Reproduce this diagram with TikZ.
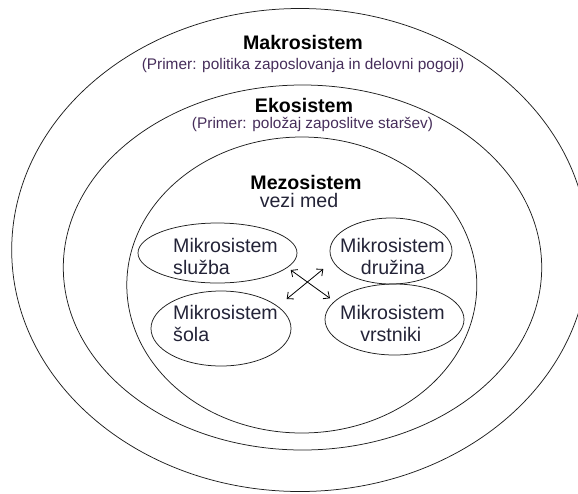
\documentclass[tikz,border=0pt]{standalone}
\usepackage{fontspec}
\setmainfont{Liberation Sans}
\usetikzlibrary{shapes.geometric,arrows.meta}
\definecolor{ringcol}{RGB}{30,30,30}
\definecolor{subcol}{RGB}{70,45,90}
\definecolor{txtcol}{RGB}{35,35,55}
\tikzset{
  ring/.style={ellipse, draw=ringcol, line width=0.75pt, inner sep=0pt},
  titletext/.style={font=\fontsize{19.6}{23}\selectfont\bfseries, text=black, inner sep=0pt, anchor=base},
  subtext/.style={font=\fontsize{15.4}{18}\selectfont, text=subcol, inner sep=0pt, anchor=base},
  mtext/.style={font=\fontsize{19.6}{23}\selectfont, text=txtcol, inner sep=0pt},
  link/.style={draw=black, line width=0.8pt, {Straight Barb[length=5pt,width=9pt]}-{Straight Barb[length=5pt,width=9pt]}}
}
\begin{document}
\begin{tikzpicture}[x=1pt,y=-1pt]
\useasboundingbox (0,0) rectangle (578,493);
% system rings
\node[ring, minimum width=576.6pt, minimum height=483pt] (makro) at (300,250) {};
\node[ring, minimum width=478.4pt, minimum height=365pt] (eko) at (302.5,267.5) {};
\node[ring, minimum width=350pt, minimum height=296pt] (mezo) at (301.8,285) {};
% microsystem ellipses
\node[ring, minimum width=159pt, minimum height=60pt] (sluzba) at (217.5,253) {};
\node[ring, minimum width=122pt, minimum height=66pt] (druzina) at (391,251) {};
\node[ring, minimum width=140pt, minimum height=75pt] (sola) at (221,328.5) {};
\node[ring, minimum width=139pt, minimum height=71pt] (vrstniki) at (394.5,319.5) {};
% titles
\node[titletext] (tmakro) at (303,49) {Makrosistem};
\node[subtext] (smakro) at (303,69) {(Primer: politika zaposlovanja in delovni pogoji)};
\node[titletext] (teko) at (304,112) {Ekosistem};
\node[subtext] (seko) at (312.5,128.3) {(Primer: položaj zaposlitve staršev)};
\node[titletext] (tmezo) at (306,189) {Mezosistem};
\node[mtext, anchor=base] (smezo) at (299,207.7) {vezi med};
% microsystem labels
\node[mtext, anchor=base west] (l1a) at (173,252.7) {Mikrosistem};
\node[mtext, anchor=base west] (l1b) at (173,274.3) {služba};
\node[mtext, anchor=base] (l2a) at (392.5,252.7) {Mikrosistem};
\node[mtext, anchor=base] (l2b) at (393,274.3) {družina};
\node[mtext, anchor=base west] (l3a) at (173,319.3) {Mikrosistem};
\node[mtext, anchor=base west] (l3b) at (173,341) {šola};
\node[mtext, anchor=base] (l4a) at (392.5,319.3) {Mikrosistem};
\node[mtext, anchor=base] (l4b) at (390.8,341) {vrstniki};
% crossing double arrows
\coordinate (a1) at (290.7,270);
\coordinate (b1) at (330,298.3);
\coordinate (a2) at (323.3,269);
\coordinate (b2) at (286.7,299);
\draw[link] (a1) -- (b1);
\draw[link] (a2) -- (b2);
\end{tikzpicture}
\end{document}
